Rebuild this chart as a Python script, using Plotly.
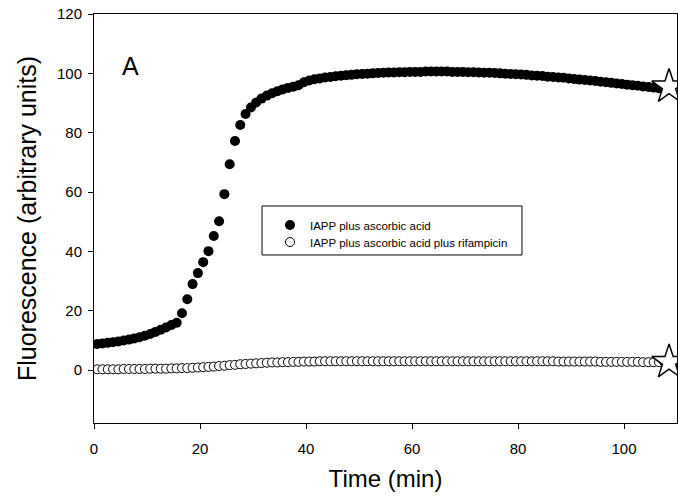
import plotly.graph_objects as go

# Sampling times (min), one reading per minute
time_min = [round(0.6 + i, 1) for i in range(108)]

# Thioflavin-T fluorescence, IAPP plus ascorbic acid
iapp_aa = [
    8.8, 9.0, 9.2, 9.4, 9.7, 10.0, 10.3, 10.7, 11.1, 11.6,
    12.2, 12.9, 13.6, 14.4, 15.2, 16.0, 19.2, 23.9, 29.0, 32.7,
    36.4, 40.1, 45.2, 50.2, 59.3, 69.4, 77.2, 82.6, 86.3, 88.5,
    90.2, 91.5, 92.5, 93.3, 94.0, 94.6, 95.1, 95.5, 96.0, 97.0,
    97.6, 98.0, 98.3, 98.6, 98.8, 99.0, 99.2, 99.4, 99.5, 99.7,
    99.8, 99.9, 100.0, 100.1, 100.2, 100.3, 100.3, 100.4, 100.4, 100.5,
    100.5, 100.5, 100.6, 100.6, 100.6, 100.6, 100.6, 100.5, 100.5, 100.5,
    100.4, 100.4, 100.3, 100.2, 100.2, 100.1, 100.0, 99.9, 99.8, 99.7,
    99.6, 99.5, 99.3, 99.2, 99.1, 98.9, 98.8, 98.6, 98.5, 98.3,
    98.1, 97.9, 97.8, 97.6, 97.4, 97.2, 97.0, 96.8, 96.6, 96.4,
    96.2, 96.0, 95.8, 95.6, 95.4, 95.2, 95.0, 94.8,
]

# IAPP plus ascorbic acid plus rifampicin
iapp_aa_rif = [
    0.3, 0.3, 0.3, 0.3, 0.3, 0.4, 0.4, 0.4, 0.4, 0.4,
    0.5, 0.5, 0.5, 0.5, 0.6, 0.6, 0.7, 0.7, 0.8, 0.9,
    1.0, 1.1, 1.2, 1.4, 1.5, 1.7, 1.8, 2.0, 2.1, 2.2,
    2.3, 2.4, 2.5, 2.6, 2.6, 2.7, 2.7, 2.8, 2.8, 2.9,
    2.9, 2.9, 3.0, 3.0, 3.0, 3.0, 3.0, 3.0, 3.0, 3.0,
    3.0, 3.0, 3.0, 3.0, 3.0, 3.0, 3.0, 3.0, 3.0, 3.0,
    3.0, 3.0, 3.0, 3.0, 3.0, 3.0, 3.0, 3.0, 3.0, 3.0,
    3.0, 3.0, 3.0, 3.0, 3.0, 3.0, 3.0, 3.0, 3.0, 3.0,
    3.0, 3.0, 3.0, 3.0, 3.0, 3.0, 3.0, 2.9, 2.9, 2.9,
    2.9, 2.9, 2.9, 2.9, 2.9, 2.8, 2.8, 2.8, 2.8, 2.8,
    2.8, 2.8, 2.8, 2.7, 2.7, 2.7, 2.7, 2.7,
]

# End-point markers (stars)
star_time = [108.5, 108.5]
star_value = [95.5, 2.7]

series_names = ["IAPP plus ascorbic acid", "IAPP plus ascorbic acid plus rifampicin"]
x_ticks = [0, 20, 40, 60, 80, 100]
y_ticks = [0, 20, 40, 60, 80, 100, 120]

FONT = "Arial, 'Liberation Sans', sans-serif"

fig = go.Figure()
fig.add_trace(go.Scatter(
    x=time_min, y=iapp_aa, mode="markers", name=series_names[0], legend="legend",
    marker=dict(symbol="circle", size=10, color="black", line=dict(width=0)),
))
fig.add_trace(go.Scatter(
    x=time_min, y=iapp_aa_rif, mode="markers", name=series_names[1], legend="legend2",
    marker=dict(symbol="circle", size=9, color="white", line=dict(color="black", width=1)),
))
fig.add_trace(go.Scatter(
    x=star_time, y=star_value, mode="markers", showlegend=False,
    marker=dict(symbol="star", size=26, color="white", line=dict(color="black", width=1.5)),
    cliponaxis=False,
))

legend_common = dict(
    xanchor="left", yanchor="middle", bgcolor="rgba(0,0,0,0)", borderwidth=0,
    font=dict(size=11.5, family=FONT, color="black"), itemwidth=30,
)

fig.update_layout(
    width=678, height=501,
    margin=dict(l=94, r=1, t=14, b=78),
    paper_bgcolor="white", plot_bgcolor="white",
    font=dict(family=FONT, color="black", size=15),
    showlegend=True,
    legend=dict(x=0.3019, y=0.4841, **legend_common),
    legend2=dict(x=0.3019, y=0.4425, **legend_common),
    shapes=[dict(
        type="rect", xref="paper", yref="paper",
        x0=0.2882, x1=0.7341, y0=0.4108, y1=0.5306,
        line=dict(color="black", width=1), fillcolor="white", layer="above",
    )],
    xaxis=dict(
        range=[0, 110], tickvals=x_ticks, showgrid=False, zeroline=False,
        showline=True, linecolor="black", linewidth=1, mirror=True,
        ticks="outside", ticklen=5, tickcolor="black", ticklabelstandoff=7,
        tickfont=dict(size=15),
        title=dict(text="Time (min)", font=dict(size=24), standoff=14),
    ),
    yaxis=dict(
        range=[-17.8, 120], tickvals=y_ticks, showgrid=False, zeroline=False,
        showline=True, linecolor="black", linewidth=1, mirror=True,
        ticks="outside", ticklen=5, tickcolor="black", ticklabelstandoff=3,
        tickfont=dict(size=15),
        title=dict(text="Fluorescence (arbitrary units)", font=dict(size=25), standoff=13),
    ),
    annotations=[dict(
        text="A", xref="paper", yref="paper", x=0.062, y=0.873,
        xanchor="center", yanchor="middle", showarrow=False,
        font=dict(size=25, family=FONT),
    )],
)

fig.write_html("out.html")
